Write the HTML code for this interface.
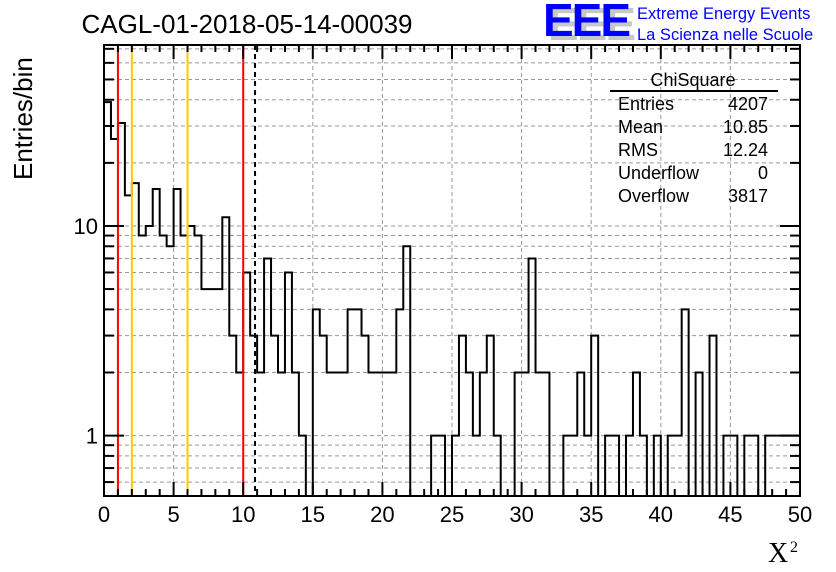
<!DOCTYPE html>
<html><head><meta charset="utf-8"><style>
body{margin:0;background:#fff;}
svg{display:block;font-family:"Liberation Sans",sans-serif;}
</style></head><body>
<svg id="chart" width="836" height="572" viewBox="0 0 836 572" xmlns="http://www.w3.org/2000/svg">
<rect width="836" height="572" fill="#fff"/>
<g id="grid"></g>
<g id="marks"></g>
<g id="axes"></g>
<text x="247" y="33" font-size="26" text-anchor="middle">CAGL-01-2018-05-14-00039</text>
<text transform="translate(32,180) rotate(-90)" font-size="26">Entries/bin</text>
<text x="768" y="562" font-size="28" font-family="Liberation Serif,serif">X</text>
<text x="790" y="552" font-size="16" font-family="Liberation Serif,serif">2</text>
<g>
<text x="548" y="40" font-size="46" font-weight="bold" fill="#c8c8c8" letter-spacing="-2">EEE</text>
<text x="543" y="36" font-size="46" font-weight="bold" fill="#0000ff" letter-spacing="-2">EEE</text>
<text x="637" y="19" font-size="16.5" fill="#0000ff">Extreme Energy Events</text>
<text x="637" y="40" font-size="16.5" fill="#0000ff">La Scienza nelle Scuole</text>
</g>
<g font-size="18">
<text x="693" y="86" text-anchor="middle">ChiSquare</text>
<line x1="610" y1="91" x2="778" y2="91" stroke="#000" stroke-width="2"/>
<text x="618" y="110">Entries</text><text x="768" y="110" text-anchor="end">4207</text>
<text x="618" y="133">Mean</text><text x="768" y="133" text-anchor="end">10.85</text>
<text x="618" y="156">RMS</text><text x="768" y="156" text-anchor="end">12.24</text>
<text x="618" y="179">Underflow</text><text x="768" y="179" text-anchor="end">0</text>
<text x="618" y="202">Overflow</text><text x="768" y="202" text-anchor="end">3817</text>
</g>
</svg>
<script>
const counts = [39,26,31,14,16,9,10,15,9,8,15,9,10,9,5,5,5,11,3,2,
6,3,2,7,3,2,6,2,1,0,4,3,2,2,2,4,4,3,2,2,
2,2,4,8,0,0,0,1,1,0,1,3,2,1,2,3,1,0,0,2,
2,7,2,2,0,0,1,1,2,1,3,0,1,1,0,1,2,1,0,1,
0,1,1,4,0,2,0,3,0,1,1,0,1,1,0,1,1,1,1,1];
const xTicks = [0,5,10,15,20,25,30,35,40,45,50];
const yLabels = [1,10];
const cutLines = [1,2,6,10];
const cutColors = ["#ff0000","#ffcc00","#ffcc00","#ff0000"];
const meanValue = 10.85;
const binWidth = 0.5;

const L=104,R=800,T=45,B=496,X0=0,X1=50,Y0=0.515,Y1=73;
const sx=v=>L+(v-X0)/(X1-X0)*(R-L);
const sy=v=>B-(Math.log10(v)-Math.log10(Y0))/(Math.log10(Y1)-Math.log10(Y0))*(B-T);
const NS="http://www.w3.org/2000/svg";
function mk(tag,attrs,parent){const e=document.createElementNS(NS,tag);for(const k in attrs)e.setAttribute(k,attrs[k]);parent.appendChild(e);return e;}
const grid=document.getElementById('grid'),marks=document.getElementById('marks'),axes=document.getElementById('axes');

const yGridVals=[];
for(let d=0.1;d<=10;d*=10)for(let m=1;m<=9;m++){const v=+(m*d).toFixed(3);if(v>=Y0&&v<=Y1)yGridVals.push(v);}
yGridVals.forEach(v=>{const g=mk('line',{x1:L,x2:R,y1:sy(v),y2:sy(v),stroke:'#999','stroke-dasharray':'4,3','stroke-width':1},grid);

});
xTicks.forEach(v=>{if(v>X0&&v<X1){const g=mk('line',{x1:sx(v),x2:sx(v),y1:T,y2:B,stroke:'#999','stroke-dasharray':'4,3','stroke-width':1},grid);

}});

let d='';
counts.forEach((c,i)=>{const x0=sx(i*binWidth),x1=sx((i+1)*binWidth);const y=c>0?Math.max(T,sy(c)):B;
if(i===0)d+=`M${x0},${y}`;else d+=`L${x0},${y}`;d+=`L${x1},${y}`;});
const hp=mk('path',{d:d,fill:'none',stroke:'#000','stroke-width':2},marks);



cutLines.forEach((v,i)=>{const l=mk('line',{x1:sx(v),x2:sx(v),y1:T,y2:B,stroke:cutColors[i],'stroke-width':2},marks);

});
const ml=mk('line',{x1:sx(meanValue),x2:sx(meanValue),y1:T,y2:B,stroke:'#000','stroke-width':2,'stroke-dasharray':'5,4'},marks);



const fr=mk('rect',{x:L,y:T,width:R-L,height:B-T,fill:'none',stroke:'#000','stroke-width':2},axes);


for(let v=X0;v<=X1;v+=1){const major=v%5===0;const len=major?14:7;const x=sx(v);
mk('line',{x1:x,x2:x,y1:B,y2:B-len,stroke:'#000','stroke-width':2},axes);
mk('line',{x1:x,x2:x,y1:T,y2:T+len,stroke:'#000','stroke-width':2},axes);}
xTicks.forEach(v=>{const t=mk('text',{x:sx(v),y:B+26,'font-size':22,'text-anchor':'middle'},axes);t.textContent=v;

});
yGridVals.forEach(v=>{const major=yLabels.includes(v);const len=major?20:10;const y=sy(v);
mk('line',{x1:L,x2:L+len,y1:y,y2:y,stroke:'#000','stroke-width':2},axes);
mk('line',{x1:R,x2:R-len,y1:y,y2:y,stroke:'#000','stroke-width':2},axes);});
yLabels.forEach(v=>{const t=mk('text',{x:L-6,y:sy(v)+8,'font-size':22,'text-anchor':'end'},axes);t.textContent=v;

});
</script>
</body></html>
